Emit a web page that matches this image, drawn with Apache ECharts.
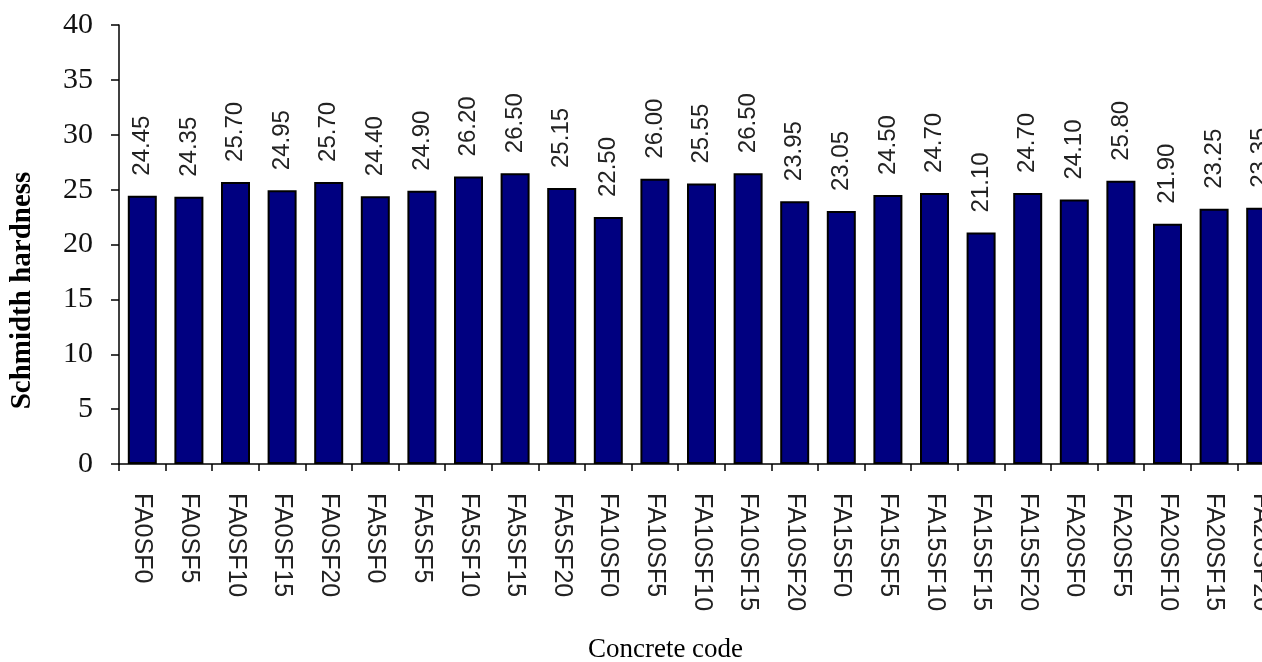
<!DOCTYPE html>
<html>
<head>
<meta charset="utf-8">
<script src="https://cdn.jsdelivr.net/npm/echarts@6/dist/echarts.min.js"></script>
<style>
  html, body { margin: 0; padding: 0; background: #fff; }
  #chart { width: 1262px; height: 662px; }
</style>
</head>
<body>
<div id="chart"></div>
<script>
// Concrete mixes: fly ash (FA) and silica fume (SF) replacement levels
const categories = [
  'FA0SF0', 'FA0SF5', 'FA0SF10', 'FA0SF15', 'FA0SF20',
  'FA5SF0', 'FA5SF5', 'FA5SF10', 'FA5SF15', 'FA5SF20',
  'FA10SF0', 'FA10SF5', 'FA10SF10', 'FA10SF15', 'FA10SF20',
  'FA15SF0', 'FA15SF5', 'FA15SF10', 'FA15SF15', 'FA15SF20',
  'FA20SF0', 'FA20SF5', 'FA20SF10', 'FA20SF15', 'FA20SF20'
];

// Schmidt hammer rebound values per mix
const hardness = [
  24.45, 24.35, 25.70, 24.95, 25.70,
  24.40, 24.90, 26.20, 26.50, 25.15,
  22.50, 26.00, 25.55, 26.50, 23.95,
  23.05, 24.50, 24.70, 21.10, 24.70,
  24.10, 25.80, 21.90, 23.25, 23.35
];

const yTicks = { min: 0, max: 40, interval: 5 };

const serif = '"Liberation Serif", "Times New Roman", serif';
const sans = '"Liberation Sans", Arial, sans-serif';

const chart = echarts.init(document.getElementById('chart'));
chart.setOption({
  animation: false,
  backgroundColor: '#ffffff',
  // plot area runs past the right edge of the canvas, so the last bar is cut
  grid: {
    left: 119, top: 25, bottom: 198, right: -22,
    containLabel: false,
    outerBoundsMode: 'none'
  },
  xAxis: {
    type: 'category',
    data: categories,
    boundaryGap: true,
    name: 'Concrete code',
    nameLocation: 'middle',
    nameGap: 172,
    nameTextStyle: { fontFamily: serif, fontSize: 27, color: '#000', padding: [0, 72, 0, 0] },
    axisLine: { show: true, lineStyle: { color: '#000', width: 1.5 } },
    axisTick: { show: true, alignWithLabel: false, length: 7, lineStyle: { color: '#000', width: 1.5 } },
    axisLabel: {
      interval: 0,
      rotate: -90,
      margin: 29,
      fontFamily: sans,
      fontSize: 25,
      color: '#222'
    },
    splitLine: { show: false }
  },
  yAxis: {
    type: 'value',
    min: yTicks.min,
    max: yTicks.max,
    interval: yTicks.interval,
    name: 'Schmidth hardness',
    nameLocation: 'middle',
    nameGap: 82,
    nameTextStyle: {
      fontFamily: serif, fontSize: 29, fontWeight: 'bold', color: '#000',
      padding: [0, 92, 0, 0]
    },
    axisLine: { show: true, lineStyle: { color: '#000', width: 1.5 } },
    axisTick: { show: true, inside: false, length: 8, lineStyle: { color: '#000', width: 1.5 } },
    axisLabel: { margin: 26, fontFamily: serif, fontSize: 30, color: '#111' },
    splitLine: { show: false }
  },
  series: [{
    type: 'bar',
    data: hardness,
    barWidth: 29,
    itemStyle: { color: '#000080', borderColor: '#000', borderWidth: 2 },
    label: {
      show: true,
      position: 'top',
      rotate: 90,
      align: 'left',
      verticalAlign: 'middle',
      distance: 20,
      fontFamily: sans,
      fontSize: 24,
      color: '#222',
      formatter: p => p.value.toFixed(2)
    }
  }]
});
</script>
</body>
</html>
